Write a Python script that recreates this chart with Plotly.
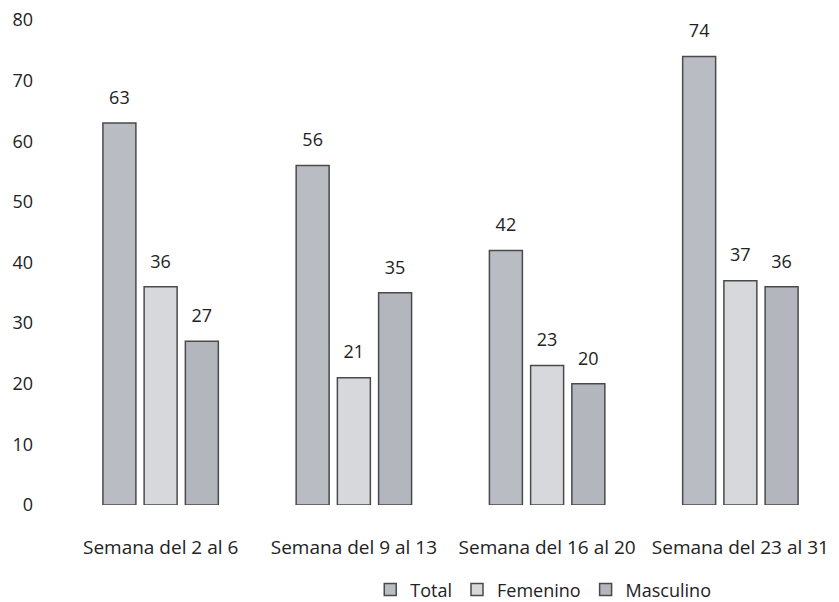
import plotly.graph_objects as go

categories = ["Semana del 2 al 6", "Semana del 9 al 13", "Semana del 16 al 20", "Semana del 23 al 31"]
total = [63, 56, 42, 74]
femenino = [36, 21, 23, 37]
masculino = [27, 35, 20, 36]

series = [("Total", total, "#b9bcc3"), ("Femenino", femenino, "#d6d8dc"), ("Masculino", masculino, "#b3b6bd")]

fig = go.Figure()
for name, vals, col in series:
    fig.add_trace(go.Bar(
        x=categories, y=vals, name=name, offsetgroup=name,
        marker=dict(color=col, line=dict(color="#4a4a4a", width=1.5)),
    ))
for name, vals, col in series:
    fig.add_trace(go.Scatter(
        x=categories, y=vals, mode="markers+text", offsetgroup=name,
        text=[str(v) for v in vals], textposition="top center",
        textfont=dict(size=18, color="#222"),
        marker=dict(size=22, color="rgba(0,0,0,0)"),
        showlegend=False, hoverinfo="skip", cliponaxis=False,
    ))

fig.update_layout(
    width=839, height=602,
    barmode="group", bargap=0.36, bargroupgap=0.2,
    scattermode="group", scattergap=0.36,
    plot_bgcolor="white", paper_bgcolor="white",
    font=dict(family="Open Sans, Noto Sans, sans-serif", size=16, color="#222"),
    margin=dict(l=56, r=10, t=12, b=105, autoexpand=False),
    showlegend=True,
    legend=dict(orientation="h", x=0.62, xanchor="center", y=-0.175, yanchor="middle",
                font=dict(size=18), itemwidth=30),
    xaxis=dict(showline=False, ticks="", ticklabelstandoff=29, tickfont=dict(size=19)),
    yaxis=dict(range=[0, 80], tickvals=[0, 10, 20, 30, 40, 50, 60, 70, 80],
               showgrid=False, zeroline=False, showline=False,
               ticklabeloverflow="allow", ticklabelstandoff=30, tickfont=dict(size=18)),
)
fig.write_html("out.html")
